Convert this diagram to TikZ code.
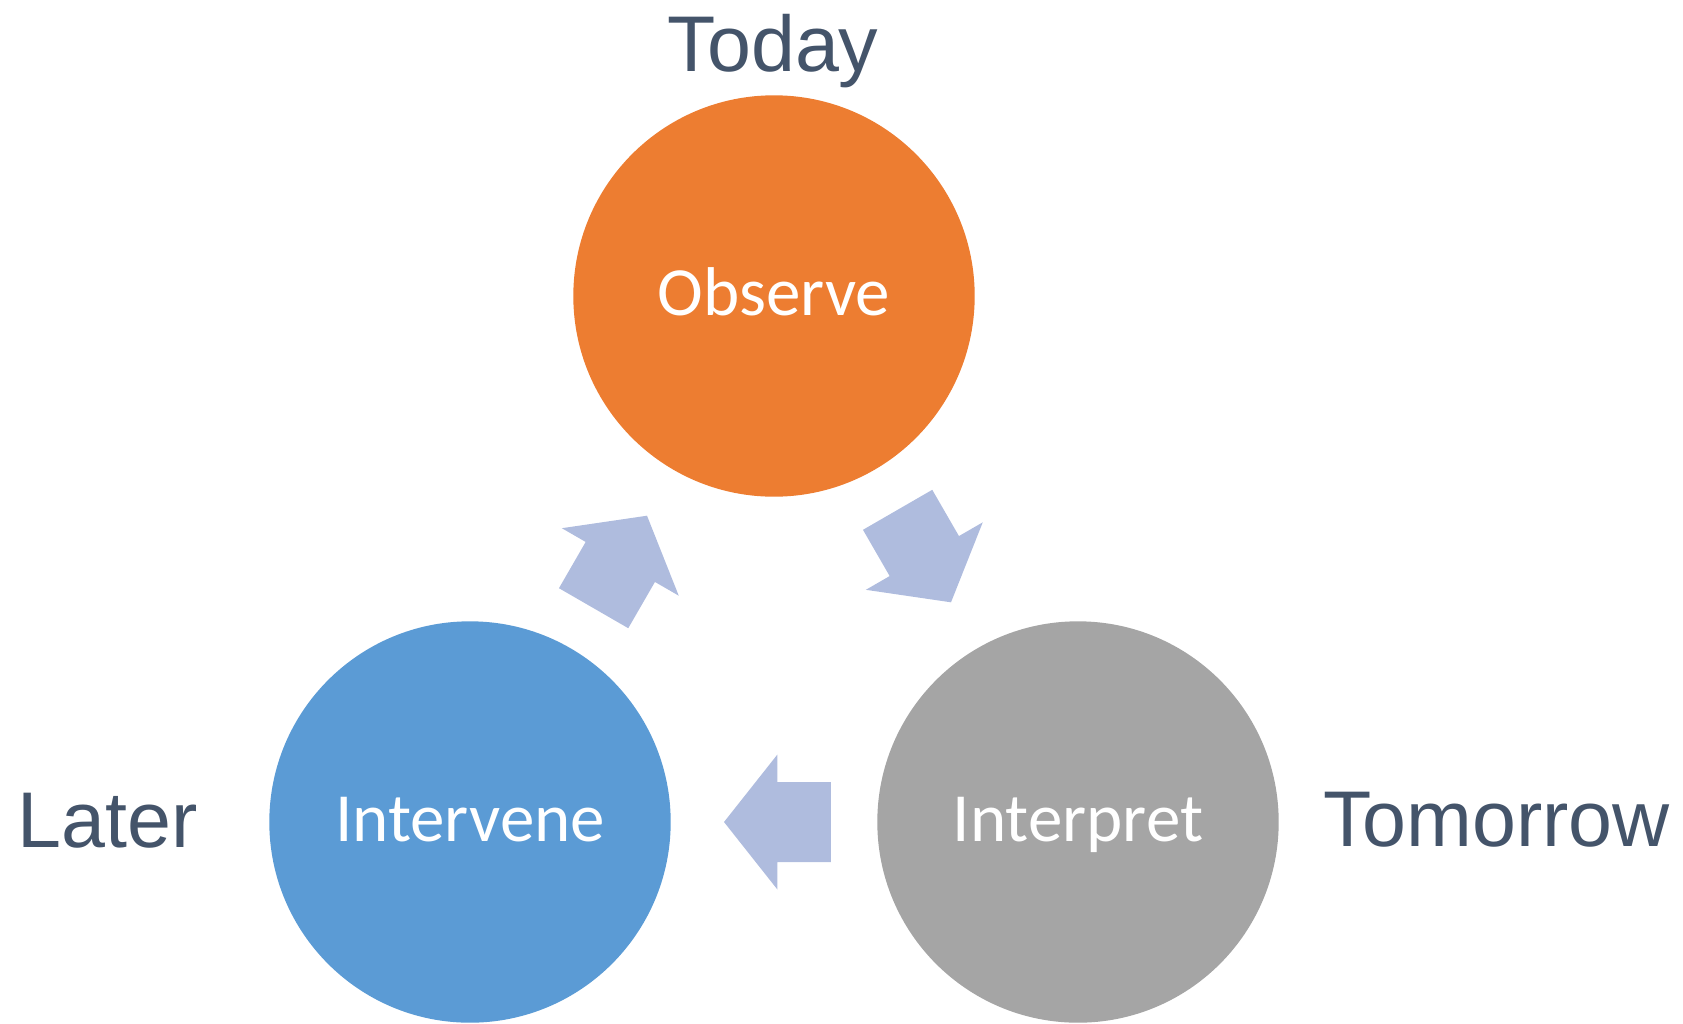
\documentclass[tikz,border=0pt]{standalone}
\usepackage{fontspec}
\setmainfont{Liberation Sans}
\newfontfamily\circlefont{Carlito}
\definecolor{observeorange}{HTML}{ED7D31}
\definecolor{interveneblue}{HTML}{5B9BD5}
\definecolor{interpretgray}{HTML}{A5A5A5}
\definecolor{arrowlilac}{RGB}{175,188,222}
\definecolor{labelslate}{HTML}{44546A}
\begin{document}
\begin{tikzpicture}[x=1pt,y=-1pt,
  stage/.style={circle, minimum size=401.4pt, inner sep=0pt, text=white,
    font=\circlefont\fontsize{69}{75}\selectfont, text height=49pt, text depth=10pt},
  timelabel/.style={anchor=base, inner sep=0pt, text=labelslate,
    font=\fontsize{79}{90}\selectfont},
  cyclearrow/.pic={
    \fill[arrowlilac] (-50,0) -- (3.4,-67.5) -- (3.4,-40) -- (56.8,-40)
      -- (56.8,40) -- (3.4,40) -- (3.4,67.5) -- cycle;
  }]
\useasboundingbox (0,0) rectangle (1683,1023);

% the three stages of the cycle
\node[stage, fill=observeorange] (observe) at (774,296) {Observe};
\node[stage, fill=interveneblue] (intervene) at (470,822) {Intervene};
\node[stage, fill=interpretgray] (interpret) at (1078,822) {Interpret};

% block arrows between the stages, pointing round the cycle
\path (observe.center) -- (interpret.center) coordinate[pos=0.5] (ob-in);
\path (interpret.center) -- (intervene.center) coordinate[pos=0.5] (in-iv);
\path (intervene.center) -- (observe.center) coordinate[pos=0.5] (iv-ob);
\pic[rotate=120] at (ob-in) {cyclearrow};
\pic at (in-iv) {cyclearrow};
\pic[rotate=-120] at (iv-ob) {cyclearrow};

% time labels
\node[timelabel] (today) at (773,71) {Today};
\node[timelabel] (tomorrow) at (1496.5,846) {Tomorrow};
\node[timelabel] (later) at (107.5,847) {Later};
\end{tikzpicture}
\end{document}
